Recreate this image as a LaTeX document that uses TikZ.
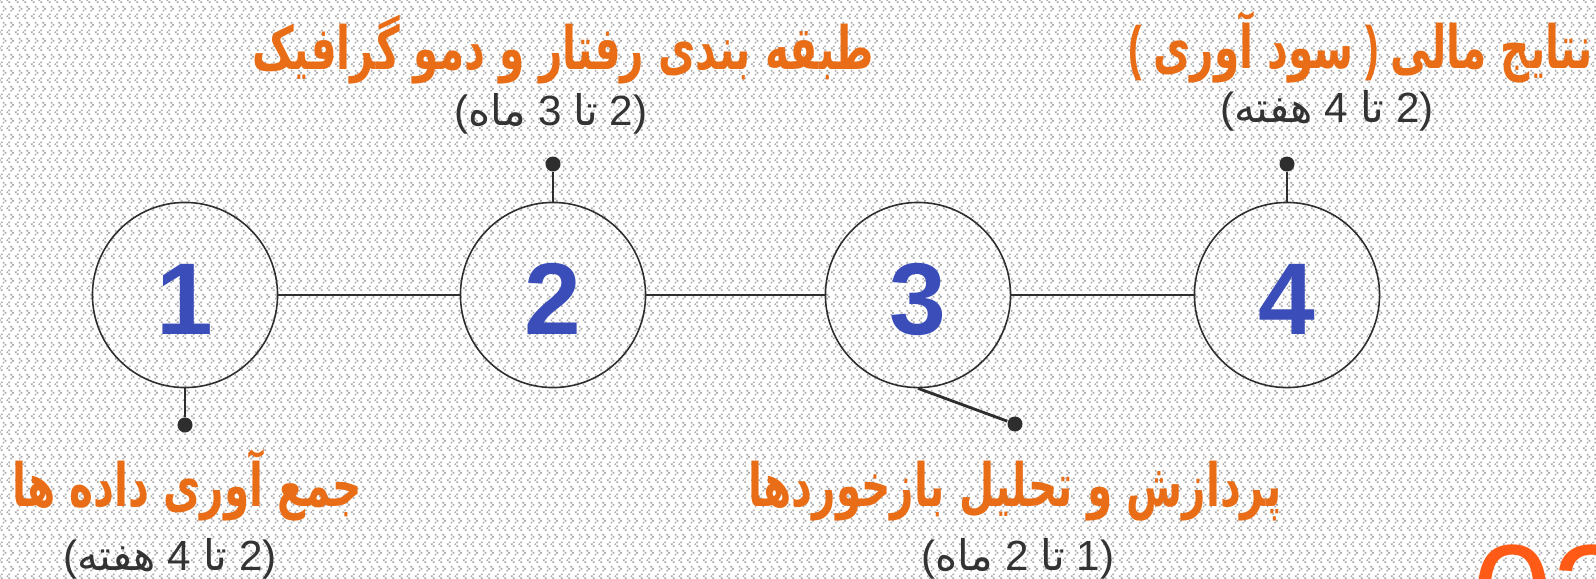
\documentclass[tikz,border=0pt]{standalone}
\usepackage{fontspec}
\usepackage{graphicx}
\setmainfont{Liberation Sans}
\newfontfamily\arfont[Script=Arabic]{DejaVu Sans}
\TeXXeTstate=1
\usetikzlibrary{patterns}
\definecolor{titleor}{HTML}{E96C16}
\definecolor{bigor}{HTML}{FF5B17}
\definecolor{numblue}{HTML}{3A4DB8}
\definecolor{subgray}{HTML}{333333}
\definecolor{linegray}{HTML}{2E2E2E}
\definecolor{patgray}{HTML}{A6A6A6}
\pgfdeclarepatternformonly{chev}{\pgfqpoint{0pt}{0pt}}{\pgfqpoint{4.552pt}{4.552pt}}{\pgfqpoint{4.552pt}{4.552pt}}{%
 \pgfpathrectangle{\pgfqpoint{0.569pt}{0pt}}{\pgfqpoint{0.512pt}{0.512pt}}%
 \pgfpathrectangle{\pgfqpoint{0pt}{0.569pt}}{\pgfqpoint{0.512pt}{0.512pt}}%
 \pgfpathrectangle{\pgfqpoint{0.569pt}{1.138pt}}{\pgfqpoint{0.512pt}{0.512pt}}%
 \pgfpathrectangle{\pgfqpoint{2.845pt}{0pt}}{\pgfqpoint{0.512pt}{0.512pt}}%
 \pgfpathrectangle{\pgfqpoint{2.276pt}{0.569pt}}{\pgfqpoint{0.512pt}{0.512pt}}%
 \pgfpathrectangle{\pgfqpoint{2.845pt}{1.138pt}}{\pgfqpoint{0.512pt}{0.512pt}}%
 \pgfpathrectangle{\pgfqpoint{1.138pt}{2.276pt}}{\pgfqpoint{0.512pt}{0.512pt}}%
 \pgfpathrectangle{\pgfqpoint{1.707pt}{2.845pt}}{\pgfqpoint{0.512pt}{0.512pt}}%
 \pgfpathrectangle{\pgfqpoint{1.138pt}{3.414pt}}{\pgfqpoint{0.512pt}{0.512pt}}%
 \pgfpathrectangle{\pgfqpoint{3.414pt}{2.276pt}}{\pgfqpoint{0.512pt}{0.512pt}}%
 \pgfpathrectangle{\pgfqpoint{3.983pt}{2.845pt}}{\pgfqpoint{0.512pt}{0.512pt}}%
 \pgfpathrectangle{\pgfqpoint{3.414pt}{3.414pt}}{\pgfqpoint{0.512pt}{0.512pt}}%
 \pgfusepath{fill}}
\newcommand{\arw}[1]{{\arfont\beginR #1\endR}}
\newcommand{\narrow}[1]{\scalebox{0.68}[1]{#1}}
\begin{document}
\begin{tikzpicture}[x=0.01cm,y=-0.01cm,
  stage/.style={circle, draw=linegray, line width=0.45pt, minimum size=1.85cm, inner sep=0pt},
  numtext/.style={font=\fontsize{29}{29}\selectfont\bfseries, text=numblue, inner sep=0pt},
  pindot/.style={circle, fill=linegray, minimum size=0.15cm, inner sep=0pt},
  pinline/.style={draw=linegray, line width=0.8pt},
  link/.style={draw=linegray, line width=0.45pt},
  ttl/.style={font=\fontsize{17}{20}\selectfont\bfseries, text=titleor, inner sep=0pt, anchor=base},
  sub/.style={font=\fontsize{12}{14}\selectfont, text=subgray, inner sep=0pt, anchor=base}]
\useasboundingbox (0,0) rectangle (1596,578);
\fill[white] (0,0) rectangle (1596,578);
\fill[pattern=chev, pattern color=patgray] (0,0) rectangle (1596,578);
\clip (0,0) rectangle (1596,578);
% stages
\node[stage] (c1) at (185,295) {};
\node[stage] (c2) at (553,295) {};
\node[stage] (c3) at (918,295) {};
\node[stage] (c4) at (1287,295) {};
\node[numtext] (n1) at (185,299) {1};
\node[numtext] (n2) at (553,299) {2};
\node[numtext] (n3) at (918,299) {3};
\node[numtext] (n4) at (1287,299) {4};
\draw[link] (c1) -- (c2);
\draw[link] (c2) -- (c3);
\draw[link] (c3) -- (c4);
% pins
\node[pindot] (d1) at (185,425) {};
\node[pindot] (d2) at (553,164) {};
\node[pindot] (d3) at (1015,424) {};
\node[pindot] (d4) at (1287,164) {};
\draw[pinline] (c1.south) -- (d1);
\draw[pinline] (c2.north) -- (d2);
\draw[pinline] (c3.south) -- (d3);
\draw[pinline] (c4.north) -- (d4);
% titles
\node[ttl] (t1) at (187,506) {\narrow{\arw{جمع آوری داده ها}}};
\node[ttl] (t2) at (563,69) {\narrow{\arw{طبقه بندی رفتار و دمو گرافیک}}};
\node[ttl] (t3) at (1015,506) {\narrow{\arw{پردازش و تحلیل بازخوردها}}};
\node[ttl, anchor=base west] (t4) at (1128,68) {\narrow{( \arw{سود آوری} ) \arw{نتایج مالی}}};
% subtitles
\node[sub] (s1) at (170,570) {(\arw{هفته} 4 \arw{تا} 2)};
\node[sub] (s2) at (551,125) {(\arw{ماه} 3 \arw{تا} 2)};
\node[sub] (s3) at (1018,570) {(\arw{ماه} 2 \arw{تا} 1)};
\node[sub] (s4) at (1327,122) {(\arw{هفته} 4 \arw{تا} 2)};
% big number
\node[font=\fontsize{41}{41}\selectfont, text=bigor, anchor=base west, inner sep=0pt] (big) at (1472,645) {03};
\end{tikzpicture}
\end{document}
